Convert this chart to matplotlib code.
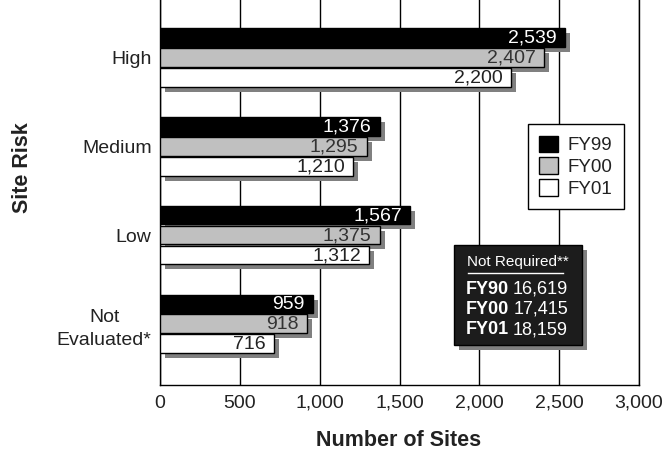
import matplotlib
matplotlib.use("Agg")
import matplotlib.pyplot as plt
import matplotlib.patheffects as pe
from matplotlib.patches import Rectangle
import numpy as np

plt.rcParams['font.family'] = ['Liberation Sans', 'DejaVu Sans']

# site counts by risk category
categories = ["High", "Medium", "Low", "Not\nEvaluated*"]
fy99 = [2539, 1376, 1567, 959]
fy00 = [2407, 1295, 1375, 918]
fy01 = [2200, 1210, 1312, 716]
series_names = ["FY99", "FY00", "FY01"]
series_colors = ["#000000", "#c0c0c0", "#ffffff"]
label_colors = ["#ffffff", "#333333", "#222222"]

# sites where no evaluation was required
not_req_years = ["FY90", "FY00", "FY01"]
not_req_values = [16619, 17415, 18159]

W, H = 668, 454
fig = plt.figure(figsize=(W / 100, H / 100), dpi=100)
ax = fig.add_axes([160 / W, 69 / H, 479 / W, 385 / H])

shadow = [pe.SimplePatchShadow(offset=(3.6, -3.6), shadow_rgbFace="#808080", alpha=1), pe.Normal()]

y = np.arange(len(categories))[::-1].astype(float)
offsets = [0.225, 0.0, -0.225]
bar_h = 0.21
for vals, off, col, tcol, name in zip([fy99, fy00, fy01], offsets, series_colors, label_colors, series_names):
    bars = ax.barh(y + off, vals, height=bar_h, color=col, edgecolor="black",
                   linewidth=1, path_effects=shadow, label=name, zorder=3)
    for b, v in zip(bars, vals):
        ax.annotate(f"{v:,}", (v, b.get_y() + b.get_height() / 2), xytext=(-6, -0.5),
                    textcoords="offset points", ha="right", va="center",
                    fontsize=14, color=tcol, zorder=4)

ax.set_xlim(0, 3000)
ax.set_ylim(-0.69, 3.65)
ax.set_xticks(range(0, 3001, 500))
ax.set_xticklabels([f"{t:,}" for t in range(0, 3001, 500)])
ax.set_yticks(y)
ax.set_yticklabels(categories)
for lab in ax.get_yticklabels():
    lab.set_multialignment("center")
    lab.set_linespacing(1.45)
ax.tick_params(axis="both", length=0, labelsize=14, labelcolor="#222222")
ax.tick_params(axis="x", pad=7)
ax.tick_params(axis="y", pad=6)
ax.xaxis.grid(True, color="black", linewidth=1)
ax.set_axisbelow(True)
ax.spines["top"].set_visible(False)
for s in ["left", "bottom", "right"]:
    ax.spines[s].set_color("black")
    ax.spines[s].set_linewidth(1)

ax.set_xlabel("Number of Sites", fontsize=15.5, fontweight="bold", color="#222222")
ax.set_ylabel("Site Risk", fontsize=15.5, fontweight="bold", color="#222222")
ax.xaxis.set_label_coords((399 - 160) / 479, (385 - 440) / 385)
ax.yaxis.set_label_coords((23 - 160) / 479, (385 - 168) / 385)
ax.xaxis.label.set_va("center")
ax.yaxis.label.set_va("center")

leg = ax.legend(loc="upper left", bbox_to_anchor=(0.768, 0.678), borderaxespad=0,
                fancybox=False, edgecolor="black", framealpha=1, fontsize=13.5,
                handlelength=1.0, handleheight=1.0, handletextpad=0.5,
                borderpad=0.62, labelspacing=0.15)
leg.get_frame().set_linewidth(1)
for h in leg.legend_handles:
    h.set_path_effects([])
for t in leg.get_texts():
    t.set_color("#222222")


def px(x, yy):
    # image pixel position -> axes fraction
    return (x - 160) / 479, (385 - yy) / 385


# boxed note with the not-required counts
x0, y0 = px(454, 345)
x1, y1 = px(582, 245)
box = Rectangle((x0, y0), x1 - x0, y1 - y0, transform=ax.transAxes,
                facecolor="#1c1c1c", edgecolor="black", linewidth=1,
                path_effects=shadow, zorder=5, clip_on=False)
ax.add_patch(box)
tx, ty = px(518, 262)
ax.text(tx, ty, "Not Required**", transform=ax.transAxes, ha="center", va="center",
        color="white", fontsize=11, zorder=6)
lx0, ly = px(468, 273)
lx1, _ = px(563, 273)
ax.plot([lx0, lx1], [ly, ly], transform=ax.transAxes, color="white", linewidth=1,
        zorder=6, clip_on=False)
for i, (yr, val) in enumerate(zip(not_req_years, not_req_values)):
    ax_, ay = px(466, 289 + 20.5 * i)
    bx, _ = px(568, 289 + 20.5 * i)
    ax.text(ax_, ay, yr, transform=ax.transAxes, ha="left", va="center",
            color="white", fontsize=13, fontweight="bold", zorder=6)
    ax.text(bx, ay, f"{val:,}", transform=ax.transAxes, ha="right", va="center",
            color="white", fontsize=13, zorder=6)

fig.savefig("out.png", dpi=100)
